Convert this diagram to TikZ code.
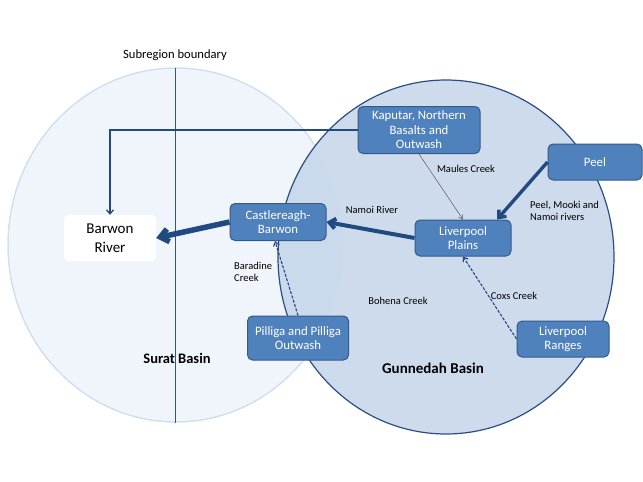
\documentclass[tikz,border=0pt]{standalone}
\usepackage{fontspec}
\setmainfont{Carlito}
\usepackage{tikz}
\usetikzlibrary{positioning,calc,shapes.geometric,arrows.meta}
\definecolor{suratfill}{RGB}{239,245,250}
\definecolor{suratline}{RGB}{205,222,236}
\definecolor{gunfill}{RGB}{196,213,233}
\definecolor{gunline}{RGB}{42,78,132}
\definecolor{boxclr}{RGB}{79,129,189}
\definecolor{boxline}{RGB}{52,90,140}
\definecolor{flowclr}{RGB}{33,74,128}
\tikzset{
  unit/.style  = {draw=boxline, line width=1pt, fill=boxclr, rounded corners=5pt,
                  text=white, align=center, inner sep=1pt,
                  font=\fontsize{12.8}{14.6}\selectfont},
  basin/.style = {ellipse, inner sep=0pt, minimum width=336pt, minimum height=354pt},
  lbl/.style   = {font=\fontsize{10.5}{12.5}\selectfont, align=left, inner sep=0pt},
  big/.style   = {-{Straight Barb[length=8pt,width=13pt]}, flowclr, line width=5.5pt},
  mid/.style   = {-{Straight Barb[length=6pt,width=10pt]}, flowclr, line width=3.4pt},
  thin/.style  = {-{Straight Barb[length=4pt,width=7pt]}, flowclr, line width=1.3pt},
  seep/.style  = {-{Straight Barb[length=4pt,width=6pt]}, flowclr, line width=1.1pt,
                  dash pattern=on 3pt off 1.5pt},
}

\begin{document}
\begin{tikzpicture}[x=1pt,y=-1pt]
        \useasboundingbox (0,0) rectangle (643,482);
        % -- Basins ------------------------------------------------------
        \node[basin, draw=suratline, line width=1pt, fill=suratfill] (surat) at (176,245) {};
        \node[basin, fill=gunfill, fill opacity=0.85] (gunnedah) at (446,257) {};
        \draw[suratline, line width=1pt] (surat.center) ellipse [x radius=168pt, y radius=177pt];
        \draw[gunline, line width=1.2pt] (gunnedah.center) ellipse [x radius=168pt, y radius=177pt];
        \draw[flowclr!80!gray, line width=1pt] ([xshift=-1pt]surat.north) -- ([xshift=-1pt]surat.south);
        \node[font=\fontsize{12.6}{14}\selectfont] (boundary) at (175,55) {Subregion boundary};
        \node[font=\fontsize{14.5}{16}\selectfont\bfseries] (suratname) at (177,358) {Surat Basin};
        \node[font=\fontsize{15}{17}\selectfont\bfseries] (gunname) at (433,368) {Gunnedah Basin};

        % -- Landscape units ---------------------------------------------
        \node[draw=white, fill=white, rounded corners=5pt, align=center,
            minimum width=92pt, minimum height=46pt, inner sep=0pt,
            font=\fontsize{15}{19}\selectfont]
            (barwon) at (110,238) {Barwon\\River};
        \node[unit, minimum width=96pt, minimum height=37pt] (castle) at (278,222) {Castlereagh-\\Barwon};
        \node[unit, minimum width=122pt, minimum height=47pt] (kaputar) at (419,130) {Kaputar, Northern\\Basalts and\\Outwash};
        \node[unit, minimum width=94pt, minimum height=36pt] (peel) at (595,162) {Peel};
        \node[unit, minimum width=96pt, minimum height=36pt] (plains) at (463,238) {Liverpool\\Plains};
        \node[unit, minimum width=101pt, minimum height=44pt] (pilliga) at (298,338) {Pilliga and Pilliga\\Outwash};
        \node[unit, minimum width=92pt, minimum height=36pt] (ranges) at (563,339) {Liverpool\\Ranges};

        % -- Flows -------------------------------------------------------
        \draw[thin, rounded corners=0pt] (kaputar.west) -| (barwon.north);
        \draw[big] (castle.west) -- (barwon.east);
        \draw[mid, line width=4pt] (plains.west) -- (castle.east);
        \draw[mid] (peel.west) -- ([xshift=34pt]plains.north);
        \draw[-{Straight Barb[length=4pt,width=5pt]}, gray!70!black, line width=0.5pt] (kaputar.south) -- (plains.north);
        \draw[seep] (ranges.west) -- (plains.south);
        \draw[seep] (pilliga.north) -- ([xshift=-3pt]castle.south);

        % -- Stream names ------------------------------------------------
        \node[lbl] (maules) at (466,169) {Maules Creek};
        \node[lbl] (namoi) at (372,210) {Namoi River};
        \node[lbl, anchor=west] (pmn) at (530,211) {Peel, Mooki and\\Namoi rivers};
        \node[lbl, anchor=west] (baradine) at (234,272) {Baradine\\Creek};
        \node[lbl] (bohena) at (398,301) {Bohena Creek};
        \node[lbl] (coxs) at (514,296) {Coxs Creek};
\end{tikzpicture}
\end{document}
